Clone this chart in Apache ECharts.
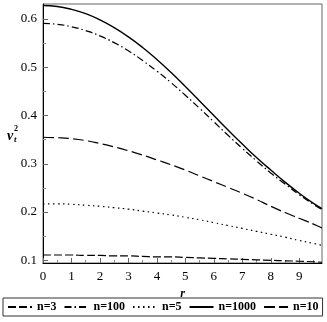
<!DOCTYPE html>
<html>
<head>
<meta charset="utf-8">
<script src="https://cdn.jsdelivr.net/npm/echarts@6/dist/echarts.min.js"></script>
<style>
html, body { margin: 0; padding: 0; background: #fff; }
#chart { width: 327px; height: 322px; }
</style>
</head>
<body>
<div id="chart"></div>
<script>
// radius values (x axis)
var rVals = [0, 0.5, 1, 1.5, 2, 2.5, 3, 3.5, 4, 4.5, 5, 5.5, 6, 6.5, 7, 7.5, 8, 8.5, 9, 9.5, 9.8];

// v_t^2
var n3 = [0.111, 0.111, 0.111, 0.110, 0.110, 0.109, 0.109, 0.108, 0.107, 0.107, 0.106, 0.105, 0.104, 0.103, 0.102, 0.101, 0.100, 0.099, 0.098, 0.097, 0.096];
var n5 = [0.217, 0.217, 0.216, 0.214, 0.212, 0.209, 0.206, 0.202, 0.198, 0.194, 0.189, 0.184, 0.178, 0.172, 0.166, 0.160, 0.154, 0.148, 0.141, 0.135, 0.131];
var n10 = [0.355, 0.354, 0.352, 0.348, 0.342, 0.335, 0.327, 0.318, 0.308, 0.298, 0.287, 0.275, 0.263, 0.251, 0.239, 0.226, 0.212, 0.199, 0.187, 0.175, 0.167];
var n100 = [0.591, 0.589, 0.584, 0.576, 0.565, 0.551, 0.534, 0.514, 0.492, 0.468, 0.442, 0.415, 0.387, 0.359, 0.332, 0.306, 0.281, 0.258, 0.236, 0.216, 0.205];
var n1000 = [0.628, 0.626, 0.620, 0.611, 0.598, 0.582, 0.563, 0.541, 0.516, 0.489, 0.460, 0.430, 0.400, 0.370, 0.341, 0.313, 0.287, 0.262, 0.239, 0.218, 0.207];

// ticks
var xTicks = [0, 1, 2, 3, 4, 5, 6, 7, 8, 9];
var xMinor = [0.5, 1.5, 2.5, 3.5, 4.5, 5.5, 6.5, 7.5, 8.5, 9.5];
var yTicks = [0.1, 0.2, 0.3, 0.4, 0.5, 0.6];
var yMinor = [0.15, 0.25, 0.35, 0.45, 0.55];

var font = 'Liberation Serif';

function pairs(vals) {
    var out = [];
    for (var i = 0; i < rVals.length; i++) {
        out.push([rVals[i], vals[i]]);
    }
    return out;
}

function line(name, vals, dash, width) {
    return {
        name: name,
        type: 'line',
        data: pairs(vals),
        smooth: true,
        symbol: 'none',
        lineStyle: { color: '#000', width: width, type: dash },
        itemStyle: { color: '#000' },
        animation: false
    };
}

var myChart = echarts.init(document.getElementById('chart'));

var option = {
    animation: false,
    grid: {
        left: 43, right: 5, top: 4, bottom: 59,
        show: true, borderColor: '#666', borderWidth: 1
    },
    legend: {
        left: 3, top: 298, width: 322,
        padding: [3, 4],
        borderColor: '#333', borderWidth: 1,
        itemWidth: 24, itemHeight: 12, itemGap: 7,
        itemStyle: { color: 'rgba(0,0,0,0)', borderColor: 'rgba(0,0,0,0)', borderWidth: 0 },
        textStyle: { fontFamily: font, fontWeight: 'bold', fontSize: 12, color: '#000' },
        data: ['n=3', 'n=100', 'n=5', 'n=1000', 'n=10']
    },
    xAxis: [{
        type: 'value', min: 0, max: 9.8,
        name: 'r', nameLocation: 'middle', nameGap: 25,
        nameTextStyle: { fontFamily: font, fontStyle: 'italic', fontWeight: 'bold', fontSize: 12, color: '#000' },
        axisLine: { lineStyle: { color: '#000' } },
        axisTick: { inside: true, length: 5, customValues: xTicks, lineStyle: { color: '#666' } },
        axisLabel: { customValues: xTicks, margin: 7, fontFamily: font, fontSize: 13, color: '#000' },
        splitLine: { show: false }
    }, {
        type: 'value', min: 0, max: 9.8, position: 'bottom',
        axisLine: { show: false },
        axisTick: { inside: true, length: 3, customValues: xMinor, lineStyle: { color: '#888' } },
        axisLabel: { show: false },
        splitLine: { show: false }
    }],
    yAxis: [{
        type: 'value', min: 0.0944, max: 0.6311,
        axisLine: { show: true, lineStyle: { color: '#000' } },
        axisTick: { show: true, inside: true, length: 5, customValues: yTicks, lineStyle: { color: '#666' } },
        axisLabel: { customValues: yTicks, margin: 6, fontFamily: font, fontSize: 13, color: '#000',
            formatter: function (v) { return v.toFixed(1); } },
        splitLine: { show: false }
    }, {
        type: 'value', min: 0.0944, max: 0.6311, position: 'left',
        axisLine: { show: false },
        axisTick: { show: true, inside: true, length: 3, customValues: yMinor, lineStyle: { color: '#888' } },
        axisLabel: { show: false },
        splitLine: { show: false }
    }],
    graphic: [
        { type: 'text', left: 7, top: 129, style: { text: 'v', font: 'italic bold 14px "Liberation Serif"', fill: '#000' } },
        { type: 'text', left: 14, top: 125, style: { text: '2', font: 'bold 8px "Liberation Serif"', fill: '#000' } },
        { type: 'text', left: 14, top: 135, style: { text: 't', font: 'italic bold 9px "Liberation Serif"', fill: '#000' } }
    ],
    series: [
        line('n=3', n3, [8, 3], 1.2),
        line('n=100', n100, [7, 3, 1.5, 3], 1.2),
        line('n=5', n5, [1.5, 3.5], 1.2),
        line('n=1000', n1000, 'solid', 1.4),
        line('n=10', n10, [11, 4], 1.2)
    ]
};

myChart.setOption(option);
</script>
</body>
</html>
